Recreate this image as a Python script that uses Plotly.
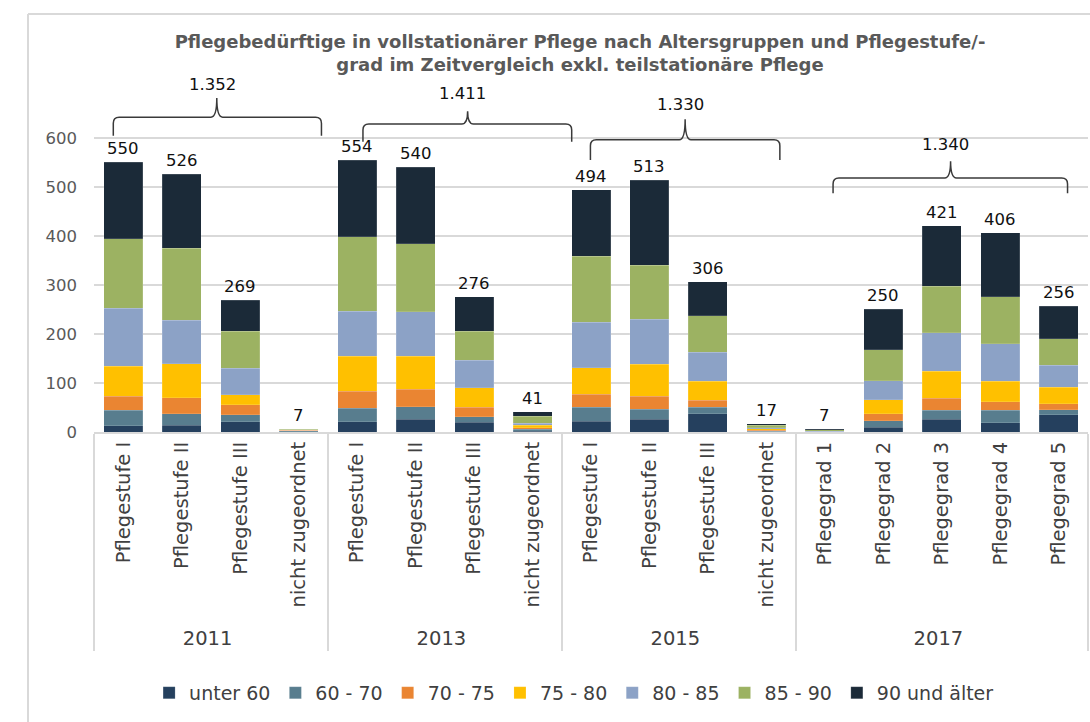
import plotly.graph_objects as go

# Categories: survey year and care level
years = ["2011"] * 4 + ["2013"] * 4 + ["2015"] * 4 + ["2017"] * 5
levels = [
    "Pflegestufe I", "Pflegestufe II", "Pflegestufe III", "nicht zugeordnet",
    "Pflegestufe I", "Pflegestufe II", "Pflegestufe III", "nicht zugeordnet",
    "Pflegestufe I", "Pflegestufe II", "Pflegestufe III", "nicht zugeordnet",
    "Pflegegrad 1", "Pflegegrad 2", "Pflegegrad 3", "Pflegegrad 4", "Pflegegrad 5",
]

# Persons in full inpatient care by age group
age_groups = ["unter 60", "60 - 70", "70 - 75", "75 - 80", "80 - 85", "85 - 90", "90 und älter"]
unter_60 = [13, 14, 21, 1, 21, 26, 20, 2, 22, 26, 37, 1, 0, 10, 26, 19, 35]
age_60_70 = [31, 23, 14, 2, 27, 26, 11, 4, 29, 20, 14, 1, 0, 13, 18, 25, 10]
age_70_75 = [29, 33, 21, 1, 35, 35, 20, 3, 26, 27, 14, 2, 0, 14, 25, 18, 13]
age_75_80 = [61, 69, 20, 0, 72, 68, 39, 5, 54, 65, 39, 3, 1, 29, 55, 42, 33]
age_80_85 = [118, 89, 54, 1, 91, 90, 56, 4, 93, 92, 59, 2, 1, 39, 78, 76, 45]
age_85_90 = [142, 147, 75, 1, 152, 139, 59, 14, 134, 110, 74, 5, 3, 63, 95, 96, 54]
age_90_plus = [156, 151, 64, 1, 156, 156, 71, 9, 136, 173, 69, 3, 2, 82, 124, 130, 66]

series = [unter_60, age_60_70, age_70_75, age_75_80, age_80_85, age_85_90, age_90_plus]
colors = ["#25405e", "#587d8e", "#ea8532", "#ffc000", "#8ca2c6", "#9cb262", "#1b2a38"]

y_ticks = [0, 100, 200, 300, 400, 500, 600]

FONT = "DejaVu Sans"
GRID = "#d9d9d9"

x = [years, levels]
totals = [sum(col) for col in zip(*series)]

fig = go.Figure()
for name, vals, col in zip(age_groups, series, colors):
    fig.add_trace(go.Bar(
        x=x, y=vals, name=name,
        marker=dict(color=col, line=dict(color="rgba(255,255,255,0.35)", width=0.4)),
    ))

# bar totals above each stack
for i, t in enumerate(totals):
    fig.add_annotation(x=i, y=t, xref="x", yref="y", text=str(t), showarrow=False,
                       yanchor="bottom", yshift=2,
                       font=dict(family=FONT, size=16.5, color="#111111"))

# curly braces with the yearly sums; geometry: (left, right, nib, bar, ends, tip, label)
group_years = ["2011", "2013", "2015", "2017"]
brace_geom = [
    (-0.17, 3.39, 1.60, 642, 604, 681, 708),
    (4.10, 7.67, 5.89, 628, 592, 654, 690),
    (7.99, 11.23, 9.61, 596, 555, 638, 667),
    (12.14, 16.15, 14.15, 518, 487, 552, 586),
]
dx, dy = 0.1, 12
for yr, (L, R, N, H, B, T, ly) in zip(group_years, brace_geom):
    total = sum(t for t, y in zip(totals, years) if y == yr)
    path = (
        f"M {L},{B} L {L},{H - dy} Q {L},{H} {L + dx},{H} "
        f"L {N - dx},{H} Q {N},{H} {N},{T} Q {N},{H} {N + dx},{H} "
        f"L {R - dx},{H} Q {R},{H} {R},{H - dy} L {R},{B}"
    )
    fig.add_shape(type="path", path=path, xref="x", yref="y",
                  line=dict(color="#3a3a3a", width=1.5))
    fig.add_annotation(x=N - 0.08, y=ly, xref="x", yref="y", showarrow=False,
                       text=f"{total:,}".replace(",", "."),
                       font=dict(family=FONT, size=16.5, color="#111111"))

# light outer frame
fig.add_shape(type="line", xref="paper", yref="paper", x0=-0.0664, x1=-0.0664,
              y0=1.1841, y1=-1.0, line=dict(color=GRID, width=2))
fig.add_shape(type="line", xref="paper", yref="paper", x0=-0.0664, x1=1.01,
              y0=1.1841, y1=1.1841, line=dict(color=GRID, width=2))

fig.update_layout(
    width=1090, height=722,
    margin=dict(l=94, r=2, t=79, b=290),
    paper_bgcolor="white", plot_bgcolor="white",
    barmode="stack", bargap=0.333,
    font=dict(family=FONT, color="#404040"),
    title=dict(
        text="<b>Pflegebedürftige in vollstationärer Pflege nach Altersgruppen und Pflegestufe/-<br>"
             "grad im Zeitvergleich exkl. teilstationäre Pflege</b>",
        x=580 / 1090, xanchor="center", xref="container",
        y=1 - 48 / 722, yanchor="middle", yref="container",
        font=dict(family=FONT, size=18, color="#595959"),
    ),
    legend=dict(
        orientation="h", x=0.483, xanchor="center", y=-0.739, yanchor="middle",
        font=dict(family=FONT, size=19, color="#404040"), traceorder="normal",
    ),
    showlegend=True,
)
fig.update_yaxes(
    range=[0, 720], tickvals=y_ticks, showgrid=True, gridcolor=GRID, gridwidth=1.5,
    zeroline=False, showline=False, ticks="", ticklabelstandoff=16,
    tickfont=dict(family=FONT, size=16.5, color="#595959"), automargin=False,
)
fig.update_xaxes(
    type="multicategory", range=[-0.5, 16.5], tickangle=-90,
    showline=True, linecolor=GRID, linewidth=2,
    showdividers=True, dividercolor=GRID, dividerwidth=2, ticks="",
    tickfont=dict(family=FONT, size=19.5, color="#404040"), automargin=False,
)

fig.write_html("out.html")
